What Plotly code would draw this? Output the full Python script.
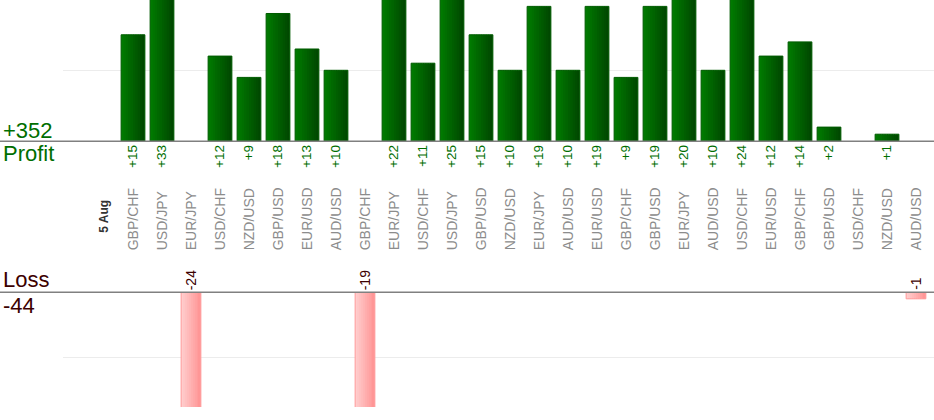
import plotly.graph_objects as go

# Data
date_label = "5 Aug"
categories = ["GBP/CHF", "USD/JPY", "EUR/JPY", "USD/CHF", "NZD/USD", "GBP/USD", "EUR/USD", "AUD/USD",
              "GBP/CHF", "EUR/JPY", "USD/CHF", "USD/JPY", "GBP/USD", "NZD/USD", "EUR/JPY", "AUD/USD",
              "EUR/USD", "GBP/CHF", "GBP/USD", "EUR/JPY", "AUD/USD", "USD/CHF", "EUR/USD", "GBP/CHF",
              "GBP/USD", "USD/CHF", "NZD/USD", "AUD/USD"]
profit = [15, 33, 0, 12, 9, 18, 13, 10, 0, 22, 11, 25, 15, 10, 19, 10,
          19, 9, 19, 20, 10, 24, 12, 14, 2, 0, 1, 0]
loss = [0, 0, 24, 0, 0, 0, 0, 0, 19, 0, 0, 0, 0, 0, 0, 0,
        0, 0, 0, 0, 0, 0, 0, 0, 0, 0, 0, 1]

# slot 0 holds the date, trades follow
xs = list(range(1, len(categories) + 1))
px = [x for x, v in zip(xs, profit) if v > 0]
pv = [v for v in profit if v > 0]
lx = [x for x, v in zip(xs, loss) if v > 0]
lv = [v for v in loss if v > 0]

W, H = 934, 420
ML, MB = 63, 13
pw, ph = W - ML, H - MB
p_dom = [(ph - 141.3) / ph, 1]
l_dom = [0, (ph - 292.3) / ph]
xr = [-41 / 29, -41 / 29 + pw / 29]

FONT = "Arial, Liberation Sans, sans-serif"
GREEN_TXT = "#006e00"
RED_TXT = "#3c0000"


def mix(c1, c2, t):
    return "rgb(%d,%d,%d)" % tuple(round(a + (b - a) * t) for a, b in zip(c1, c2))


fig = go.Figure()

# profit bars with a stepped left-to-right gradient
n = 10
bw = 0.82
step = bw / n
for k in range(n):
    fig.add_trace(go.Bar(
        x=px, y=pv, xaxis="x", yaxis="y",
        width=step * 1.4 if k < n - 1 else step, offset=-bw / 2 + k * step,
        marker=dict(color=mix((0, 122, 0), (0, 72, 0), k / (n - 1)), line=dict(width=0)),
        hoverinfo="skip", showlegend=False))
fig.add_trace(go.Bar(
    x=px, y=pv, xaxis="x", yaxis="y", width=bw,
    marker=dict(color="rgba(0,0,0,0)", line=dict(color="#005c00", width=1)),
    showlegend=False))

# loss bars
lw = 0.68
lstep = lw / n
for k in range(n):
    fig.add_trace(go.Bar(
        x=lx, y=lv, xaxis="x2", yaxis="y2",
        width=lstep * 1.4 if k < n - 1 else lstep, offset=-lw / 2 + k * lstep,
        marker=dict(color=mix((255, 204, 204), (255, 150, 150), k / (n - 1)), line=dict(width=0)),
        hoverinfo="skip", showlegend=False))
fig.add_trace(go.Bar(
    x=lx, y=lv, xaxis="x2", yaxis="y2", width=lw,
    marker=dict(color="rgba(0,0,0,0)", line=dict(color="#ff9a9a", width=1)),
    showlegend=False))

annotations = [
    dict(text="+%d" % sum(profit), x=-ML / pw + 1 / pw, y=p_dom[0], xref="paper", yref="paper",
         xanchor="left", yanchor="bottom", yshift=-4, showarrow=False,
         font=dict(family=FONT, size=22, color=GREEN_TXT)),
    dict(text="Profit", x=-ML / pw + 1 / pw, y=p_dom[0], xref="paper", yref="paper",
         xanchor="left", yanchor="top", yshift=2, showarrow=False,
         font=dict(family=FONT, size=22, color=GREEN_TXT)),
    dict(text="Loss", x=-ML / pw + 1 / pw, y=l_dom[1], xref="paper", yref="paper",
         xanchor="left", yanchor="bottom", yshift=-2, showarrow=False,
         font=dict(family=FONT, size=22, color=RED_TXT)),
    dict(text="-%d" % sum(loss), x=-ML / pw + 1 / pw, y=l_dom[1], xref="paper", yref="paper",
         xanchor="left", yanchor="top", yshift=1, showarrow=False,
         font=dict(family=FONT, size=22, color=RED_TXT)),
    dict(text="<b>%s</b>" % date_label, x=0, y=0, xref="x2", yref="y2",
         xanchor="center", yanchor="bottom", yshift=57, textangle=-90, showarrow=False,
         font=dict(family=FONT, size=12, color="#333333")),
]
for x, v in zip(lx, lv):
    annotations.append(dict(text="-%d" % v, x=x, y=0, xref="x2", yref="y2",
                            xanchor="center", yanchor="bottom", yshift=0, textangle=-90,
                            showarrow=False, font=dict(family=FONT, size=14, color=RED_TXT)))

shapes = [
    dict(type="line", xref="paper", yref="paper", x0=-ML / pw, x1=1, y0=p_dom[0], y1=p_dom[0],
         line=dict(color="#808080", width=1.5)),
    dict(type="line", xref="paper", yref="paper", x0=-ML / pw, x1=1, y0=l_dom[1], y1=l_dom[1],
         line=dict(color="#808080", width=1.5)),
]

fig.update_layout(
    width=W, height=H,
    margin=dict(l=ML, r=0, t=0, b=MB),
    paper_bgcolor="white", plot_bgcolor="white",
    barmode="overlay", showlegend=False,
    font=dict(family=FONT),
    xaxis=dict(domain=[0, 1], range=xr, anchor="y", side="bottom",
               tickvals=px, ticktext=["+%d" % v for v in pv], tickangle=-90, ticks="",
               ticklabelstandoff=0, showgrid=False, zeroline=False, showline=False,
               tickfont=dict(family=FONT, size=13.5, color=GREEN_TXT)),
    yaxis=dict(domain=p_dom, range=[0, 19.9], dtick=10, showticklabels=False,
               showgrid=True, gridcolor="#ececec", gridwidth=1, zeroline=False),
    xaxis2=dict(domain=[0, 1], range=xr, anchor="y2", side="top",
                tickvals=xs, ticktext=categories, tickangle=-90, ticks="",
                ticklabelstandoff=41, showgrid=False, zeroline=False, showline=False,
                tickfont=dict(family=FONT, size=14, color="#8c8c8c")),
    yaxis2=dict(domain=l_dom, range=[17.6, 0], dtick=10, showticklabels=False,
                showgrid=True, gridcolor="#ececec", gridwidth=1, zeroline=False),
    annotations=annotations,
    shapes=shapes,
)

fig.write_html("out.html", config={"displayModeBar": False},
               post_script="document.body.style.margin='0';")
